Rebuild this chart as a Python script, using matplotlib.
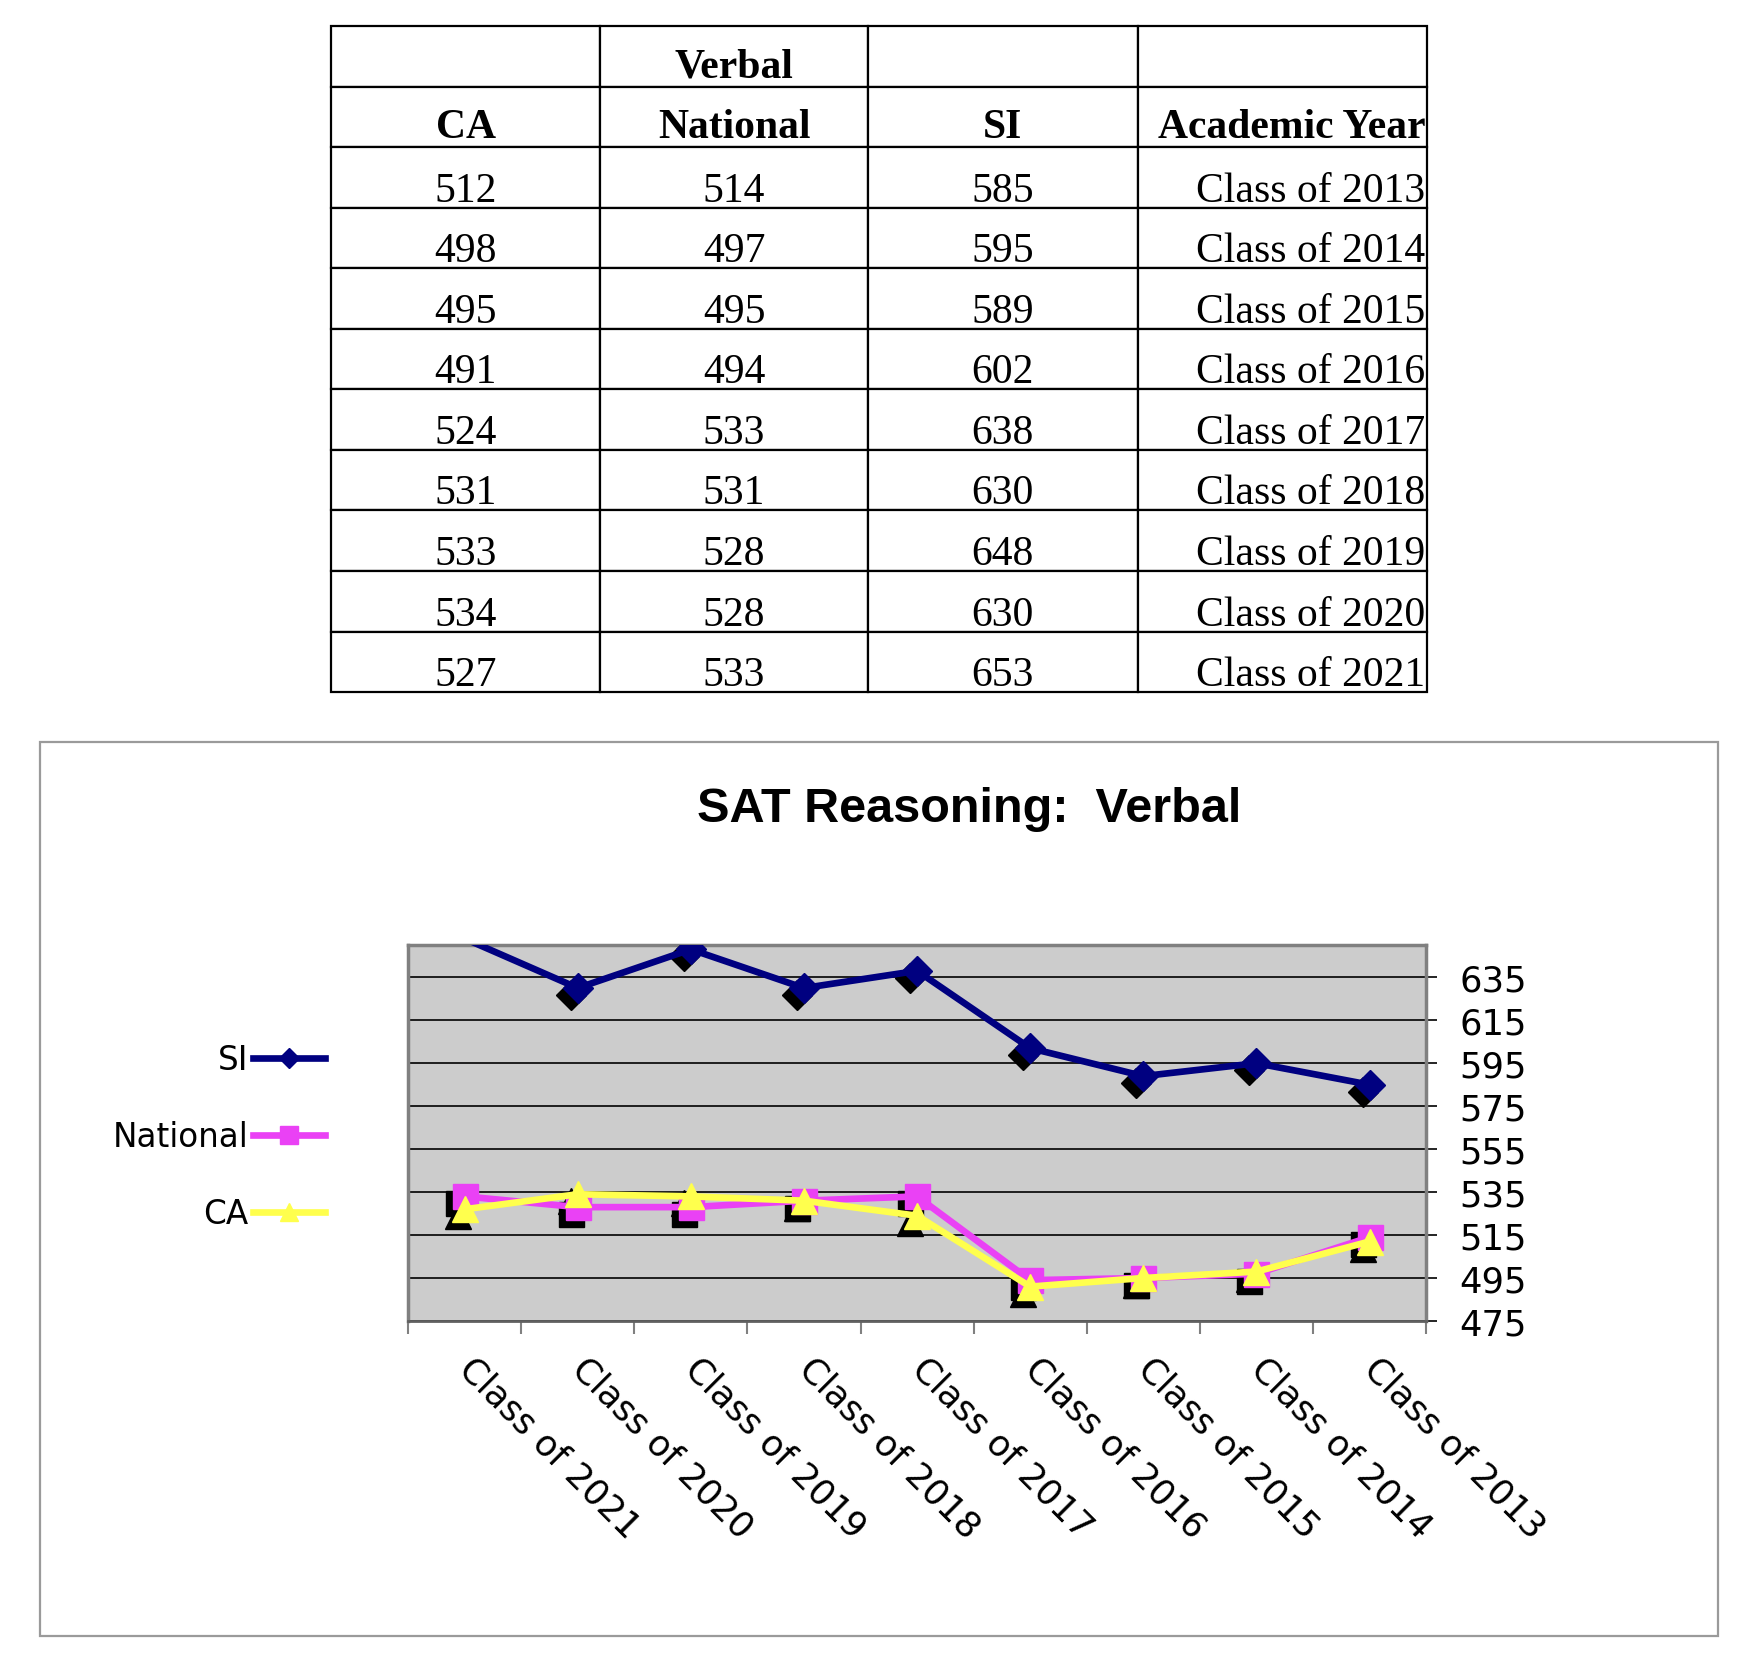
import matplotlib.pyplot as plt
from matplotlib.patches import Rectangle
from matplotlib.transforms import offset_copy, Affine2D

years = ["Class of 2013", "Class of 2014", "Class of 2015", "Class of 2016",
         "Class of 2017", "Class of 2018", "Class of 2019", "Class of 2020",
         "Class of 2021"]
si = [585, 595, 589, 602, 638, 630, 648, 630, 653]
national = [514, 497, 495, 494, 533, 531, 528, 528, 533]
ca = [512, 498, 495, 491, 524, 531, 533, 534, 527]
y_ticks = [475, 495, 515, 535, 555, 575, 595, 615, 635]
y_min, y_max = 475, 650

fig = plt.figure(figsize=(17.44, 16.56), dpi=100)

# ---- table (layout mirrored like the reference) ----
tab_ax = fig.add_axes([0.190, 0.5815, 0.628, 0.402])
tab_ax.axis("off")
rows = [["", "Verbal", "", ""], ["CA", "National", "SI", "Academic Year"]]
for yr, s, n, c in zip(years, si, national, ca):
    rows.append([str(c), str(n), str(s), yr])
col_w = [269, 268, 270, 289]
tbl = tab_ax.table(cellText=rows, cellLoc="center", bbox=[0, 0, 1, 1],
                   colWidths=[w / sum(col_w) for w in col_w])
tbl.auto_set_font_size(False)
for (r, c), cell in tbl.get_celld().items():
    cell.set_linewidth(1.6)
    cell.set_edgecolor("black")
    t = cell.get_text()
    t.set_fontfamily("Liberation Serif")
    t.set_fontsize(30)
    # text sits a little below the cell middle in the original
    t.set_transform(Affine2D().translate(0, -10 if r < 2 else -13))
    if r < 2:
        t.set_fontweight("bold")
    if c == 3:
        cell._loc = "right"
        cell.PAD = 0.005
        t.set_ha("right")

# ---- chart ----
fig.patches.append(Rectangle((0.0229, 0.0115), 0.962, 0.5398,
                             transform=fig.transFigure, fill=False,
                             edgecolor="#9a9a9a", lw=1.6))
fig.text(0.5556, 0.511, "SAT Reasoning:  Verbal", ha="center", va="center",
         fontsize=35, fontweight="bold", family="Liberation Sans")

ax = fig.add_axes([0.234, 0.2017, 0.5837, 0.227])
ax.set_facecolor("#CCCCCC")
x = list(range(len(years)))

series = [("SI", si, "#000080", "D", 15),
          ("National", national, "#EA41F5", "s", 18),
          ("CA", ca, "#FFFF4D", "^", 19)]
shadow = offset_copy(ax.transData, fig=fig, x=-7, y=-7, units="dots")
for name, vals, col, mk, ms in series:
    shown = [i for i, v in enumerate(vals) if v <= y_max]
    ax.plot(x, vals, ls="none", marker=mk, ms=ms, color="black",
            markevery=shown, transform=shadow, zorder=3)
for name, vals, col, mk, ms in series:
    shown = [i for i, v in enumerate(vals) if v <= y_max]
    ax.plot(x, vals, color=col, lw=4.8, marker=mk, ms=ms, mec=col,
            markevery=shown, label=name, zorder=4)

ax.set_xlim(len(years) - 0.5, -0.5)
ax.set_ylim(y_min, y_max)
ax.set_yticks(y_ticks)
ax.grid(axis="y", color="black", lw=1.2, zorder=1)
ax.set_axisbelow(True)
ax.yaxis.tick_right()
ax.tick_params(axis="y", length=8, width=1.2, color="black", pad=16,
               labelsize=25.5)

ax.set_xticks([i - 0.5 for i in range(len(years) + 1)])
ax.set_xticklabels([])
ax.set_xticks(x, minor=True)
ax.set_xticklabels(years, minor=True, rotation=-45, ha="left", va="center",
                   rotation_mode="anchor", fontsize=25.5)
ax.tick_params(axis="x", which="major", length=9, width=1.5, color="#808080")
ax.tick_params(axis="x", which="minor", length=0, pad=30)
for side in ["top", "left", "right"]:
    ax.spines[side].set_color("#808080")
    ax.spines[side].set_linewidth(2.5)
ax.spines["bottom"].set_color("#606060")
ax.spines["bottom"].set_linewidth(2.0)

fig.legend(loc="center right", bbox_to_anchor=(0.1864, 0.313),
           frameon=False, markerfirst=False, fontsize=23.5, handlelength=2.2,
           handletextpad=0.15, labelspacing=1.35, borderaxespad=0,
           borderpad=0, markerscale=0.7)

fig.savefig("out.png", dpi=100)
